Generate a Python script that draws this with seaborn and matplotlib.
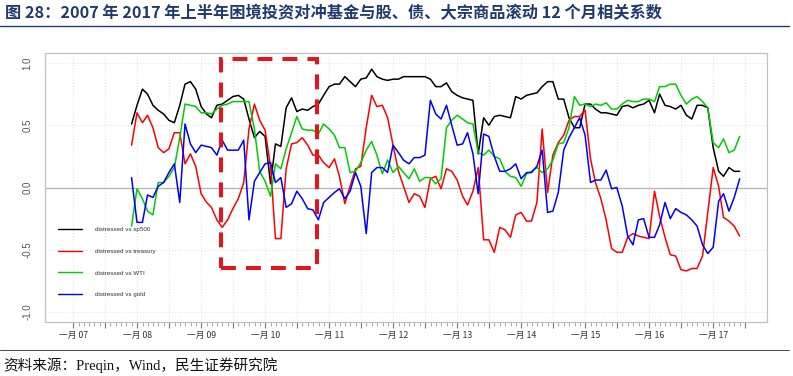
import numpy as np
import pandas as pd
import matplotlib
matplotlib.use('Agg')
import matplotlib.pyplot as plt
import matplotlib.dates as mdates
from matplotlib.patches import Rectangle
from matplotlib.lines import Line2D
from matplotlib.ticker import FixedLocator, FuncFormatter
import seaborn as sns

sns.set_theme(style='white')
plt.rcParams['font.family'] = ['Liberation Sans', 'Noto Sans CJK SC', 'DejaVu Sans']

title_text = '图 28：2007 年 2017 年上半年困境投资对冲基金与股、债、大宗商品滚动 12 个月相关系数'
source_text = '资料来源：Preqin，Wind，民生证券研究院'
start_month = '2007-11-30'
series_names = ['distressed vs sp500', 'distressed vs treasury', 'distressed vs WTI', 'distressed vs gold']
series_colors = ['#000000', '#ff0000', '#00cd00', '#0000ff']
y_ticks = [-1.0, -0.5, 0.0, 0.5, 1.0]
y_tick_labels = ['-1.0', '-0.5', '0.0', '0.5', '1.0']

sp500 = [0.51, 0.66, 0.79, 0.75, 0.66, 0.62, 0.59, 0.54, 0.52, 0.66,
         0.83, 0.85, 0.79, 0.65, 0.59, 0.56, 0.66, 0.67, 0.70, 0.73,
         0.74, 0.71, 0.55, 0.40, 0.45, 0.41, 0.03, 0.35, 0.33, 0.64,
         0.72, 0.61, 0.63, 0.62, 0.65, 0.67, 0.74, 0.81, 0.83, 0.83,
         0.89, 0.85, 0.81, 0.87, 0.88, 0.95, 0.89, 0.87, 0.86, 0.87,
         0.87, 0.89, 0.89, 0.89, 0.89, 0.89, 0.87, 0.81, 0.81, 0.84,
         0.77, 0.74, 0.72, 0.71, 0.70, 0.27, 0.56, 0.50, 0.57, 0.58,
         0.57, 0.56, 0.73, 0.71, 0.74, 0.75, 0.76, 0.81, 0.85, 0.85,
         0.71, 0.71, 0.56, 0.48, 0.48, 0.67, 0.67, 0.63, 0.60, 0.60,
         0.59, 0.58, 0.65, 0.66, 0.64, 0.66, 0.67, 0.70, 0.60, 0.75,
         0.66, 0.65, 0.63, 0.66, 0.58, 0.55, 0.66, 0.66, 0.64, 0.32,
         0.13, 0.09, 0.16, 0.13, 0.13]

treasury = [0.34, 0.60, 0.52, 0.58, 0.48, 0.32, 0.28, 0.31, 0.44, 0.44,
            0.19, 0.27, 0.17, -0.05, -0.12, -0.16, -0.26, -0.32, -0.26, -0.17,
            -0.09, 0.04, 0.47, 0.67, 0.54, 0.46, 0.17, -0.41, -0.41, 0.15,
            0.35, 0.36, 0.40, 0.34, 0.26, 0.26, 0.20, 0.16, 0.23, 0.09,
            -0.13, 0.01, 0.15, 0.17, 0.48, 0.74, 0.65, 0.66, 0.56, 0.34,
            0.13, 0.01, -0.12, -0.05, -0.07, -0.16, 0.07, 0.09, -0.01, 0.15,
            0.13, 0.06, -0.07, -0.14, -0.03, 0.16, -0.42, -0.42, -0.52, -0.32,
            -0.34, -0.40, -0.22, -0.20, -0.27, -0.27, -0.12, 0.47, -0.04, 0.26,
            0.36, 0.42, 0.54, 0.57, 0.57, 0.62, 0.23, 0.04, -0.09, -0.26,
            -0.49, -0.52, -0.52, -0.40, -0.37, -0.39, -0.40, -0.41, -0.03, -0.23,
            -0.40, -0.54, -0.55, -0.66, -0.67, -0.65, -0.65, -0.55, -0.20, 0.16,
            0.01, -0.24, -0.27, -0.31, -0.39]

wti = [-0.31, -0.01, -0.09, -0.19, -0.22, 0.04, 0.04, 0.09, 0.16, 0.40,
       0.67, 0.66, 0.65, 0.60, 0.60, 0.59, 0.63, 0.66, 0.67, 0.69,
       0.69, 0.69, 0.69, 0.47, 0.13, 0.05, -0.07, 0.19, 0.15, 0.31,
       0.44, 0.57, 0.47, 0.46, 0.46, 0.43, 0.51, 0.47, 0.42, 0.32,
       0.32, 0.12, 0.13, 0.20, 0.30, 0.37, 0.26, 0.11, 0.22, 0.12,
       0.17, 0.12, 0.07, 0.15, 0.05, 0.08, 0.08, 0.03, 0.07, 0.48,
       0.54, 0.58, 0.55, 0.52, 0.51, 0.28, 0.26, 0.30, 0.25, 0.23,
       0.13, 0.09, 0.08, 0.01, 0.11, 0.13, 0.16, 0.12, 0.15, 0.22,
       0.35, 0.36, 0.48, 0.73, 0.66, 0.67, 0.65, 0.67, 0.66, 0.68,
       0.63, 0.63, 0.67, 0.70, 0.69, 0.69, 0.71, 0.71, 0.69, 0.81,
       0.81, 0.83, 0.83, 0.74, 0.67, 0.71, 0.73, 0.69, 0.64, 0.36,
       0.32, 0.39, 0.28, 0.30, 0.41]

gold = [0.08, -0.28, -0.28, -0.06, -0.08, 0.01, 0.04, 0.12, 0.19, -0.12,
        0.51, 0.35, 0.28, 0.34, 0.33, 0.32, 0.26, 0.38, 0.30, 0.30,
        0.30, 0.38, -0.26, 0.05, 0.12, 0.19, 0.20, 0.04, 0.08, -0.16,
        -0.13, -0.03, -0.09, -0.17, -0.18, -0.26, -0.12, -0.08, -0.04, -0.01,
        -0.09, -0.03, 0.12, 0.01, -0.37, 0.12, 0.16, 0.16, 0.12, 0.34,
        0.28, 0.22, 0.19, 0.24, 0.24, 0.26, 0.70, 0.59, 0.55, 0.66,
        0.50, 0.34, 0.35, 0.44, 0.27, -0.05, 0.43, 0.41, 0.25, 0.13,
        0.13, 0.15, 0.19, 0.07, 0.12, 0.12, 0.17, 0.30, -0.20, -0.19,
        -0.04, 0.30, 0.40, 0.48, 0.56, 0.42, 0.04, 0.06, 0.06, 0.14,
        -0.01, 0.00, -0.15, -0.39, -0.46, -0.26, -0.25, -0.40, -0.40, -0.30,
        -0.12, -0.25, -0.17, -0.20, -0.22, -0.26, -0.31, -0.46, -0.53, -0.48,
        -0.11, -0.05, -0.19, -0.08, 0.07]

n = len(sp500)
dates = pd.date_range(start_month, periods=n, freq='ME')
df = pd.DataFrame({
    'date': np.tile(dates, 4),
    'value': np.concatenate([sp500, treasury, wti, gold]),
    'series': np.repeat(series_names, n),
})

W, H = 793, 376
fig = plt.figure(figsize=(W / 100, H / 100), dpi=100)
ax = fig.add_axes([45 / W, 1 - 322 / H, 722 / W, 269 / H])

sns.lineplot(data=df, x='date', y='value', hue='series', hue_order=series_names,
             palette=series_colors, estimator=None, linewidth=1.1, ax=ax, zorder=3)

# axes limits
ax.set_xlim(mdates.date2num(pd.Timestamp('2006-07-24')), mdates.date2num(pd.Timestamp('2017-11-03')))
ax.set_ylim(-1.08, 1.08)

# x ticks
months = pd.date_range('2007-01-01', '2017-07-01', freq='MS')
major = [m for m in months if m.month in (1, 7)]
ax.xaxis.set_major_locator(FixedLocator(mdates.date2num(major)))
ax.xaxis.set_minor_locator(FixedLocator(mdates.date2num(months)))

def fmt(x, pos):
    d = mdates.num2date(x)
    return f'一月 {d.year % 100:02d}' if d.month == 1 else ''

ax.xaxis.set_major_formatter(FuncFormatter(fmt))
ax.tick_params(axis='x', which='major', direction='out', length=4.5, width=0.8, color='#777777',
               bottom=True, labelsize=6.3, labelcolor='#333333', pad=2,
               labelfontfamily='Noto Sans CJK SC')
ax.tick_params(axis='x', which='minor', direction='out', length=3, width=0.6, color='#999999', bottom=True)

ax.set_yticks(y_ticks)
ax.set_yticklabels(y_tick_labels, rotation=90, va='center')
ax.tick_params(axis='y', length=0, pad=9, labelsize=7, labelcolor='#555555')

ax.set_xlabel('')
ax.set_ylabel('')

# grid
ax.grid(True, which='major', axis='both', color='#e4e4e4', linestyle=':', linewidth=0.8, zorder=0)
ax.axhline(0, color='#b5b5b5', linewidth=0.9, zorder=1)

for sp in ax.spines.values():
    sp.set_color('#c0c0c0')
    sp.set_linewidth(0.9)

# legend
h, l = ax.get_legend_handles_labels()
leg = ax.legend(h, l, loc='upper left', bbox_to_anchor=(0.018, 0.3535), frameon=False,
                fontsize=4.5, labelspacing=2.6, handlelength=3.8, handletextpad=2.1,
                borderpad=0, borderaxespad=0)
for t in leg.get_texts():
    t.set_color('#333333')
for ln in leg.get_lines():
    ln.set_linewidth(1.0)

# highlight rectangle
x0 = mdates.date2num(pd.Timestamp('2009-04-24'))
x1 = mdates.date2num(pd.Timestamp('2010-10-24'))
rect = Rectangle((x0, -0.645), x1 - x0, 1.675, fill=False, edgecolor='#e8141b',
                 linewidth=2.9, linestyle=(0, (3.7, 2.5)), zorder=5, clip_on=False)
ax.add_patch(rect)

# title and source
fig.text(0.006, 1 - 13 / H, title_text, fontsize=11.7, fontweight='bold', color='#1f3a6e',
         family=['Noto Sans CJK SC', 'DejaVu Sans'], va='center', ha='left')
fig.add_artist(Line2D([0, 0.995], [1 - 26 / H, 1 - 26 / H], color='#1f3a6e', linewidth=1.0))
fig.add_artist(Line2D([0, 0.995], [1 - 350 / H, 1 - 350 / H], color='#3a4a6a', linewidth=0.7))
fig.text(0.004, 1 - 365 / H, source_text, fontsize=10.5, color='#111111',
         family=['Liberation Serif', 'Noto Sans CJK SC'], va='center', ha='left')

fig.savefig('out.png', dpi=100)
